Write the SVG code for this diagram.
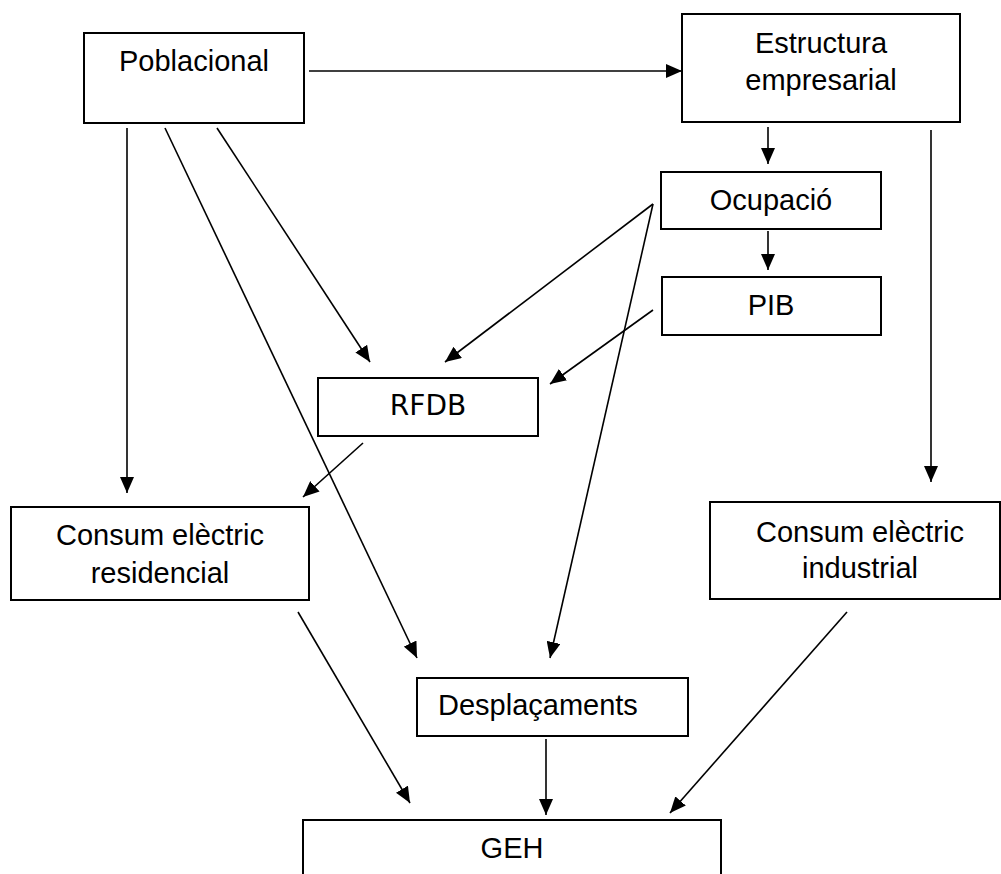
<svg xmlns="http://www.w3.org/2000/svg" width="1001" height="874" viewBox="0 0 1001 874">
<style>
.box{fill:#fff;stroke:#000;stroke-width:2}
.t{font-family:"Liberation Sans",Arial,sans-serif;font-size:29px;fill:#000;text-anchor:middle}
.c line{stroke:#000;stroke-width:1.6;marker-end:url(#ah)}
</style>
<defs>
<marker id="ah" viewBox="0 0 16 14" refX="16" refY="7" markerWidth="16" markerHeight="14" markerUnits="userSpaceOnUse" orient="auto">
<path d="M0,0 L16,7 L0,14 z" fill="#000"/>
</marker>
</defs>
<rect width="1001" height="874" fill="#fff"/>
<g id="poblacional"><rect class="box" x="84" y="33" width="220" height="90"/><text class="t" x="194" y="71">Poblacional</text></g>
<g id="estructura"><rect class="box" x="682" y="14" width="278" height="108"/><text class="t" x="821" y="53">Estructura</text><text class="t" x="821" y="90">empresarial</text></g>
<g id="ocupacio"><rect class="box" x="661" y="172" width="220" height="57"/><text class="t" x="771" y="210">Ocupació</text></g>
<g id="pib"><rect class="box" x="662" y="277" width="219" height="58"/><text class="t" x="771" y="315">PIB</text></g>
<g id="rfdb"><rect class="box" x="318" y="378" width="220" height="58"/><text class="t" x="428" y="415" style="font-family:'DejaVu Sans',sans-serif;font-size:28px">RFDB</text></g>
<g id="consum-residencial"><rect class="box" x="11" y="507" width="298" height="93"/><text class="t" x="160" y="545">Consum elèctric</text><text class="t" x="160" y="583">residencial</text></g>
<g id="consum-industrial"><rect class="box" x="710" y="502" width="290" height="97"/><text class="t" x="860" y="542">Consum elèctric</text><text class="t" x="860" y="578">industrial</text></g>
<g id="desplacaments"><rect class="box" x="417" y="678" width="271" height="58"/><text class="t" x="438" y="715" style="text-anchor:start">Desplaçaments</text></g>
<g id="geh"><rect class="box" x="303" y="820" width="418" height="70"/><text class="t" x="512" y="858">GEH</text></g>
<g id="connectors" class="c">
<line x1="309" y1="71" x2="682" y2="71"/>
<line x1="127" y1="128" x2="127" y2="493"/>
<line x1="165" y1="128" x2="417" y2="658"/>
<line x1="217" y1="128" x2="370" y2="362"/>
<line x1="768" y1="127" x2="768" y2="164"/>
<line x1="768" y1="231" x2="768" y2="270"/>
<line x1="931" y1="130" x2="931" y2="482"/>
<line x1="653" y1="204" x2="445" y2="362"/>
<line x1="653" y1="204" x2="550" y2="658"/>
<line x1="653" y1="310" x2="550" y2="384"/>
<line x1="363" y1="443" x2="303" y2="497"/>
<line x1="298" y1="612" x2="410" y2="803"/>
<line x1="546" y1="739" x2="546" y2="815"/>
<line x1="847" y1="612" x2="670" y2="813"/>
</g>
</svg>
